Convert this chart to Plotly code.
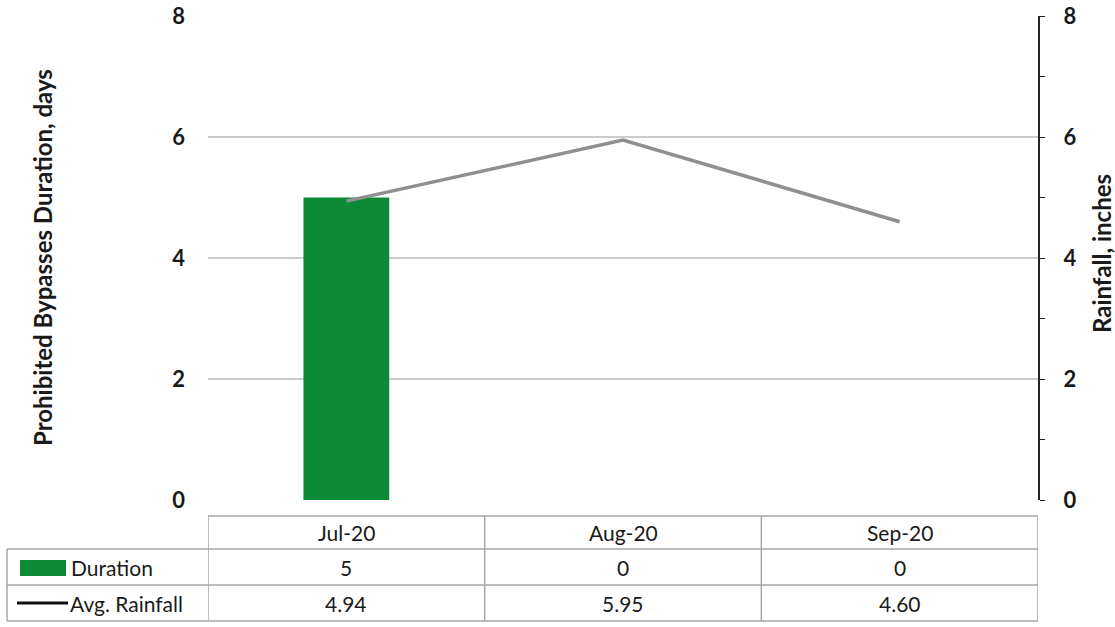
import plotly.graph_objects as go

categories = ["Jul-20", "Aug-20", "Sep-20"]
duration = [5, 0, 0]
rainfall = [4.94, 5.95, 4.60]
rain_labels = ["4.94", "5.95", "4.60"]
left_ticks = [0, 2, 4, 6, 8]
right_ticks = [0, 2, 4, 6, 8]

FONT = "Lato"
GREEN = "#0B8A38"
LINE_GRAY = "#8F8F8F"
BORDER = "#A6A6A6"

W, H = 1115, 627
L, T = 208, 16
R = W - 1038
B = H - 500
pw, ph = W - L - R, H - T - B


def py(pix):
    return (H - B - pix) / ph


def px(pix):
    return (pix - L) / pw


fig = go.Figure()
fig.add_trace(go.Bar(x=categories, y=duration, name="Duration", marker_color=GREEN,
                     marker_line_width=0, width=0.31, yaxis="y"))
fig.add_trace(go.Scatter(x=categories, y=rainfall, name="Avg. Rainfall", mode="lines",
                         line=dict(color=LINE_GRAY, width=3.5), yaxis="y2"))

tick_font = dict(family=FONT, size=22, color="#1a1a1a", weight="bold")
fig.update_layout(
    width=W, height=H,
    margin=dict(l=L, r=R, t=T, b=B, autoexpand=False),
    paper_bgcolor="white", plot_bgcolor="white",
    showlegend=False,
    font=dict(family=FONT, color="#1a1a1a"),
    xaxis=dict(type="category", range=[-0.5, 2.5], showticklabels=False,
               showgrid=False, showline=False, zeroline=False, ticks=""),
    yaxis=dict(range=[0, 8], tickvals=left_ticks, showgrid=True, gridcolor="#CCCCCC",
               gridwidth=1.5, zeroline=False, showline=False, ticks="",
               ticklabelstandoff=22, ticklabeloverflow="allow", tickfont=tick_font),
    yaxis2=dict(range=[0, 8], tickvals=right_ticks, overlaying="y", side="right",
                showgrid=False, zeroline=False, showline=True, linecolor="#222",
                linewidth=2, ticks="outside", ticklen=5, tickcolor="#222",
                ticklabelstandoff=14, ticklabeloverflow="allow",
                minor=dict(dtick=1, ticks="outside", ticklen=5, tickcolor="#222"),
                tickfont=tick_font),
)

# axis titles
title_font = dict(family=FONT, size=24, color="#1a1a1a")
fig.add_annotation(text="<b>Prohibited Bypasses Duration, days</b>", xref="paper", yref="paper",
                   x=px(42), y=py(258), textangle=-90, showarrow=False,
                   xanchor="center", yanchor="middle", font=title_font)
fig.add_annotation(text="<b>Rainfall, inches</b>", xref="paper", yref="paper",
                   x=px(1101), y=py(254), textangle=-90, showarrow=False,
                   xanchor="center", yanchor="middle", font=title_font)

# data table
y_top, y_r1, y_r2, y_bot = py(516), py(549), py(585), py(621)
x_leg = px(7)
line = dict(color=BORDER, width=1.5)
n = len(categories)
fig.add_shape(type="line", xref="x", yref="paper", x0=-0.5, x1=n - 0.5, y0=y_top, y1=y_top, line=line)
for yy in (y_r1, y_r2, y_bot):
    fig.add_shape(type="line", xref="paper", yref="paper", x0=x_leg, x1=1, y0=yy, y1=yy, line=line)
for i in range(n + 1):
    fig.add_shape(type="line", xref="x", yref="paper", x0=i - 0.5, x1=i - 0.5, y0=y_top, y1=y_bot, line=line)
fig.add_shape(type="line", xref="paper", yref="paper", x0=x_leg, x1=x_leg, y0=y_r1, y1=y_bot, line=line)

tfont = dict(family=FONT, size=21, color="#1a1a1a")
for i, c in enumerate(categories):
    fig.add_annotation(text=c, xref="x", yref="paper", x=c, y=(y_top + y_r1) / 2,
                       showarrow=False, font=tfont, yanchor="middle")
    fig.add_annotation(text=str(duration[i]), xref="x", yref="paper", x=c, y=(y_r1 + y_r2) / 2,
                       showarrow=False, font=tfont, yanchor="middle")
    fig.add_annotation(text=rain_labels[i], xref="x", yref="paper", x=c, y=(y_r2 + y_bot) / 2,
                       showarrow=False, font=tfont, yanchor="middle")

# legend keys
fig.add_shape(type="rect", xref="paper", yref="paper", x0=px(20), x1=px(66),
              y0=py(576), y1=py(560), fillcolor=GREEN, line=dict(width=0))
fig.add_shape(type="line", xref="paper", yref="paper", x0=px(17), x1=px(68),
              y0=py(603), y1=py(603), line=dict(color="#111", width=3))
fig.add_annotation(text="Duration", xref="paper", yref="paper", x=px(69), y=(y_r1 + y_r2) / 2,
                   xanchor="left", yanchor="middle", showarrow=False, font=tfont)
fig.add_annotation(text="Avg. Rainfall", xref="paper", yref="paper", x=px(68), y=(y_r2 + y_bot) / 2,
                   xanchor="left", yanchor="middle", showarrow=False, font=tfont)

fig.write_html(
    "out.html",
    config={"displayModeBar": False},
    post_script="document.body.style.margin='0px';document.documentElement.style.overflow='hidden';",
)
